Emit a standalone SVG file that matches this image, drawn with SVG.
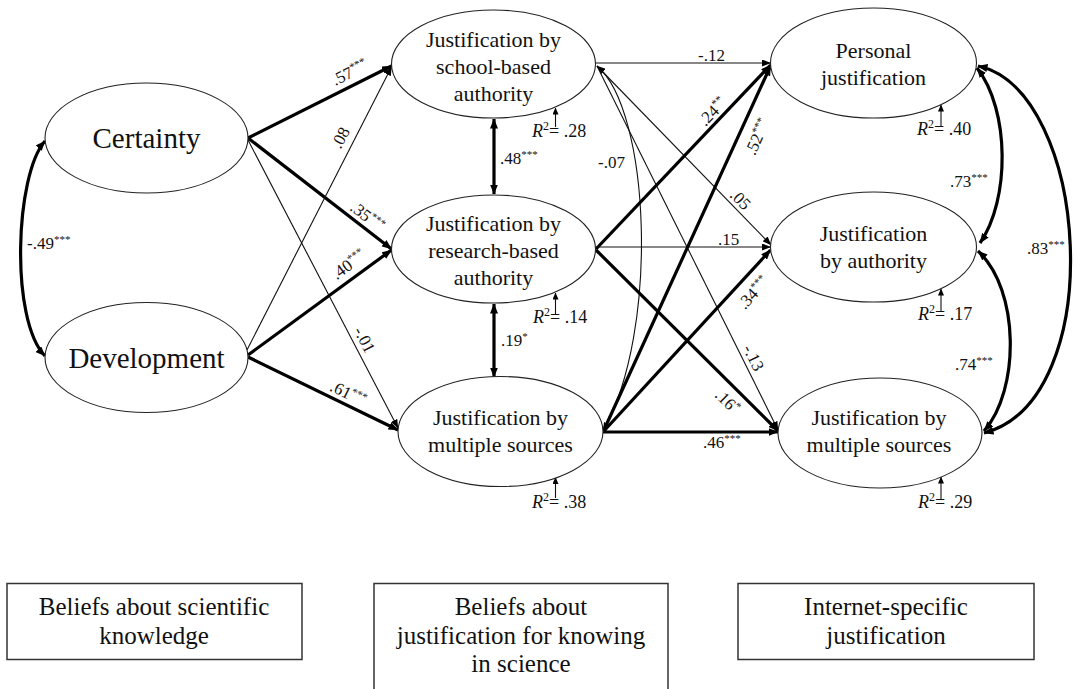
<svg xmlns="http://www.w3.org/2000/svg" width="1085" height="689" viewBox="0 0 1085 689" font-family="'Liberation Serif', Tinos, 'Times New Roman', Times, 'Noto Serif', 'Nimbus Roman', FreeSerif, 'DejaVu Serif', serif">
<defs>
<style>
text, tspan { font-family: 'Liberation Serif', Tinos, 'Times New Roman', Times, 'Noto Serif', 'Nimbus Roman', FreeSerif, 'DejaVu Serif', serif; fill: #111; }
.node{fill:#fff;stroke:#222;stroke-width:1.1}
.big{font-size:29px;text-anchor:middle}
.mid{font-size:22px;text-anchor:middle}
.lab{font-size:17px}
.cen{text-anchor:middle}
.r2{font-size:18px}
.thick{fill:none;stroke:#000;stroke-width:3.2}
.thin{fill:none;stroke:#111;stroke-width:1.1}
.box{fill:#fff;stroke:#333;stroke-width:1.5}
.btxt{font-size:25px;text-anchor:middle}
.ah{marker-end:url(#ah)}
.at{marker-end:url(#at)}
.dbl{marker-start:url(#ah);marker-end:url(#ah)}
.dblt{marker-start:url(#at);marker-end:url(#at)}
.rar{marker-end:url(#ar)}
</style>
<marker id="ah" viewBox="0 0 10 8" refX="9.5" refY="4" markerWidth="10" markerHeight="8" markerUnits="userSpaceOnUse" orient="auto-start-reverse"><path d="M0,0 L10,4 L0,8 z" fill="#000"/></marker>
<marker id="at" viewBox="0 0 9 7" refX="8.5" refY="3.5" markerWidth="9" markerHeight="7" markerUnits="userSpaceOnUse" orient="auto-start-reverse"><path d="M0,0 L9,3.5 L0,7 z" fill="#000"/></marker>
<marker id="ar" viewBox="0 0 7 6" refX="6.5" refY="3" markerWidth="7" markerHeight="6" markerUnits="userSpaceOnUse" orient="auto"><path d="M0,0 L7,3 L0,6 z" fill="#000"/></marker>
</defs>
<rect width="1085" height="689" fill="#fff"/>

<g id="connectors">
<path class="thick dbl" d="M45,141 C15,175 10,320 45,356" stroke-width="2.6"/>
<line class="thick ah" x1="248" y1="138" x2="391.5" y2="66"/>
<line class="thick ah" x1="248" y1="138" x2="391.5" y2="249"/>
<line class="thin at" x1="248" y1="140" x2="398" y2="428"/>
<line class="thin at" x1="247" y1="350" x2="391.5" y2="67"/>
<line class="thick ah" x1="248" y1="355" x2="391.5" y2="250"/>
<line class="thick ah" x1="248" y1="357" x2="398" y2="430"/>
<line class="thick dbl" x1="494" y1="119" x2="494" y2="194" stroke-width="2.6"/>
<line class="thick dbl" x1="494" y1="304" x2="494" y2="377" stroke-width="2.6"/>
<line class="thin at" x1="596" y1="63" x2="770.5" y2="63"/>
<line class="thin at" x1="597" y1="66" x2="771" y2="245"/>
<line class="thin at" x1="597" y1="66" x2="778" y2="430"/>
<path class="thin dblt" d="M597,66 C650,110 660,330 603,431"/>
<line class="thick ah" x1="596" y1="249" x2="770.5" y2="65"/>
<line class="thin at" x1="596" y1="247" x2="770.5" y2="247"/>
<line class="thick ah" x1="596" y1="250" x2="778" y2="431"/>
<line class="thick ah" x1="603" y1="432" x2="770.5" y2="66"/>
<line class="thick ah" x1="603" y1="432" x2="770.5" y2="250"/>
<line class="thick ah" x1="603" y1="432" x2="778" y2="432"/>
<path class="thick dbl" d="M977,68 C1010,110 1010,200 980,243" stroke-width="2.6"/>
<path class="thick dbl" d="M978,251 C1020,290 1020,390 984,431" stroke-width="2.6"/>
<path class="thick dbl" d="M978,66 C1090,90 1110,400 984,433" stroke-width="2.6"/>
<line class="thin rar" x1="555.5" y1="127" x2="555.5" y2="108"/>
<line class="thin rar" x1="555.5" y1="314" x2="555.5" y2="293"/>
<line class="thin rar" x1="555.5" y1="498" x2="555.5" y2="477.5"/>
<line class="thin rar" x1="941" y1="127" x2="941" y2="105"/>
<line class="thin rar" x1="941" y1="312" x2="941" y2="289"/>
<line class="thin rar" x1="941" y1="499" x2="941" y2="477"/>
</g>

<g id="labels" class="lab">
<text x="27" y="249">-.49<tspan font-size="11" dy="-6">***</tspan></text>
<text class="cen" transform="translate(350,73) rotate(-26.6)" x="0" y="5">.57<tspan font-size="11" dy="-6">***</tspan></text>
<text class="cen" transform="translate(341,138) rotate(-62.5)" x="0" y="5">.08</text>
<text class="cen" transform="translate(367,217) rotate(37.8)" x="0" y="5">.35<tspan font-size="11" dy="-6">***</tspan></text>
<text class="cen" transform="translate(349,265) rotate(-36)" x="0" y="5">.40<tspan font-size="11" dy="-6">***</tspan></text>
<text class="cen" transform="translate(364,340) rotate(62.5)" x="0" y="5">-.01</text>
<text class="cen" transform="translate(348,394) rotate(26)" x="0" y="5">.61<tspan font-size="11" dy="-6">***</tspan></text>
<text x="500" y="164">.48<tspan font-size="11" dy="-6">***</tspan></text>
<text x="501" y="346">.19<tspan font-size="11" dy="-6">*</tspan></text>
<text x="598" y="168">-.07</text>
<text x="698" y="61">-.12</text>
<text class="cen" transform="translate(713,112) rotate(-46)" x="0" y="5">.24<tspan font-size="11" dy="-6">**</tspan></text>
<text class="cen" transform="translate(758,137) rotate(-65.5)" x="0" y="5">.52<tspan font-size="11" dy="-6">***</tspan></text>
<text class="cen" transform="translate(740,200) rotate(45.5)" x="0" y="5">.05</text>
<text x="718" y="245">.15</text>
<text class="cen" transform="translate(754,293) rotate(-47.5)" x="0" y="5">.34<tspan font-size="11" dy="-6">***</tspan></text>
<text class="cen" transform="translate(753,358) rotate(63.5)" x="0" y="5">-.13</text>
<text class="cen" transform="translate(727,402) rotate(45)" x="0" y="5">.16<tspan font-size="11" dy="-6">*</tspan></text>
<text x="703" y="448">.46<tspan font-size="11" dy="-6">***</tspan></text>
<text x="950" y="187">.73<tspan font-size="11" dy="-6">***</tspan></text>
<text x="955" y="370">.74<tspan font-size="11" dy="-6">***</tspan></text>
<text x="1027" y="254">.83<tspan font-size="11" dy="-6">***</tspan></text>
</g>

<g id="n-certainty">
<ellipse class="node" cx="146.5" cy="138" rx="101.5" ry="55"/>
<text class="big" x="146.5" y="148">Certainty</text>
</g>
<g id="n-development">
<ellipse class="node" cx="146.5" cy="357.5" rx="101.5" ry="55"/>
<text class="big" x="146.5" y="368">Development</text>
</g>
<g id="n-school">
<ellipse class="node" cx="493.5" cy="64" rx="102" ry="54"/>
<text class="mid" x="493.5" y="47">Justification by</text>
<text class="mid" x="493.5" y="74">school-based</text>
<text class="mid" x="493.5" y="101">authority</text>
<text class="r2" x="532" y="137"><tspan font-style="italic">R</tspan><tspan font-size="12" dy="-7">2</tspan><tspan dy="7">= .28</tspan></text>
</g>
<g id="n-research">
<ellipse class="node" cx="493.5" cy="249" rx="102" ry="54"/>
<text class="mid" x="493.5" y="231">Justification by</text>
<text class="mid" x="493.5" y="258">research-based</text>
<text class="mid" x="493.5" y="285">authority</text>
<text class="r2" x="533" y="323"><tspan font-style="italic">R</tspan><tspan font-size="12" dy="-7">2</tspan><tspan dy="7">= .14</tspan></text>
</g>
<g id="n-multiple-mid">
<ellipse class="node" cx="500.5" cy="431.5" rx="102.5" ry="55"/>
<text class="mid" x="500.5" y="425">Justification by</text>
<text class="mid" x="500.5" y="452">multiple sources</text>
<text class="r2" x="532" y="508"><tspan font-style="italic">R</tspan><tspan font-size="12" dy="-7">2</tspan><tspan dy="7">= .38</tspan></text>
</g>
<g id="n-personal">
<ellipse class="node" cx="873.5" cy="63" rx="103" ry="55"/>
<text class="mid" x="873.5" y="58">Personal</text>
<text class="mid" x="873.5" y="85">justification</text>
<text class="r2" x="917" y="135"><tspan font-style="italic">R</tspan><tspan font-size="12" dy="-7">2</tspan><tspan dy="7">= .40</tspan></text>
</g>
<g id="n-authority">
<ellipse class="node" cx="873.5" cy="247" rx="103" ry="55"/>
<text class="mid" x="873.5" y="241">Justification</text>
<text class="mid" x="873.5" y="268">by authority</text>
<text class="r2" x="918" y="320"><tspan font-style="italic">R</tspan><tspan font-size="12" dy="-7">2</tspan><tspan dy="7">= .17</tspan></text>
</g>
<g id="n-multiple-right">
<ellipse class="node" cx="880" cy="433" rx="102" ry="55"/>
<text class="mid" x="879" y="425">Justification by</text>
<text class="mid" x="879" y="452">multiple sources</text>
<text class="r2" x="918" y="508"><tspan font-style="italic">R</tspan><tspan font-size="12" dy="-7">2</tspan><tspan dy="7">= .29</tspan></text>
</g>

<g id="legend-1">
<rect class="box" x="7" y="583.5" width="295" height="76"/>
<text class="btxt" x="154" y="615">Beliefs about scientific</text>
<text class="btxt" x="154" y="644">knowledge</text>
</g>
<g id="legend-2">
<rect class="box" x="374" y="583.5" width="294" height="112"/>
<text class="btxt" x="521" y="615">Beliefs about</text>
<text class="btxt" x="521" y="644">justification for knowing</text>
<text class="btxt" x="521" y="672">in science</text>
</g>
<g id="legend-3">
<rect class="box" x="738" y="583.5" width="296" height="76"/>
<text class="btxt" x="886" y="615">Internet-specific</text>
<text class="btxt" x="886" y="644">justification</text>
</g>
</svg>
